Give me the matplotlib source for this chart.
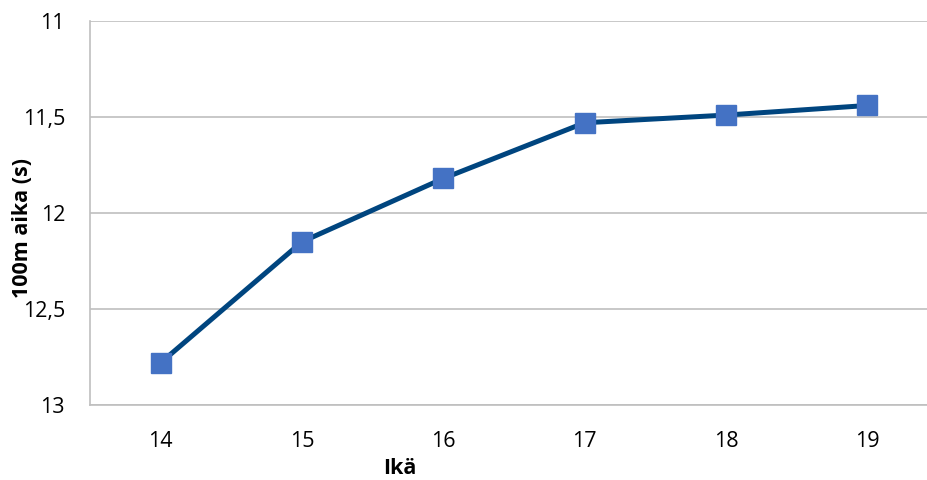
import matplotlib
matplotlib.use('Agg')
import matplotlib.pyplot as plt
from matplotlib.ticker import FuncFormatter

# data
ages = ['14', '15', '16', '17', '18', '19']
times = [12.78, 12.15, 11.82, 11.53, 11.49, 11.44]
yticks = [11, 11.5, 12, 12.5, 13]

plt.rcParams['font.family'] = ['Open Sans', 'DejaVu Sans']

fig = plt.figure(figsize=(9.28, 4.8), dpi=100)
# plot area runs past the right edge of the picture, as in the original
ax = fig.add_axes([90 / 928, 1 - 405 / 480, 848 / 928, 384 / 480])

x = list(range(len(ages)))
ax.plot(x, times, color='#00457F', linewidth=3.6, marker='s', markersize=14,
        markerfacecolor='#4472C4', markeredgecolor='#4472C4', zorder=3,
        clip_on=False)

ax.set_xlim(-0.5, len(ages) - 0.5)
ax.set_xticks(x)
ax.set_xticklabels(ages)
ax.set_ylim(13, 11)
ax.set_yticks(yticks)
ax.yaxis.set_major_formatter(FuncFormatter(lambda v, p: f'{v:g}'.replace('.', ',')))

ax.grid(axis='y', color='#BFBFBF', linewidth=1.2)
ax.set_axisbelow(True)
for s in ['top', 'right']:
    ax.spines[s].set_visible(False)
for s in ['left', 'bottom']:
    ax.spines[s].set_color('#BFBFBF')
    ax.spines[s].set_linewidth(1.2)

ax.tick_params(axis='both', length=0, labelsize=15.5, colors='black')
ax.tick_params(axis='x', pad=19)
ax.tick_params(axis='y', pad=18)

ax.set_xlabel('Ikä', fontsize=15.5, fontweight='bold', va='center')
ax.xaxis.set_label_coords((400 - 90) / 848, -(468 - 405) / 384)
ax.set_ylabel('100m aika (s)', fontsize=15.5, fontweight='bold', va='center')
ax.yaxis.set_label_coords(-(90 - 23) / 848, (405 - 228) / 384)

fig.savefig('out.png', dpi=100, facecolor='white')
